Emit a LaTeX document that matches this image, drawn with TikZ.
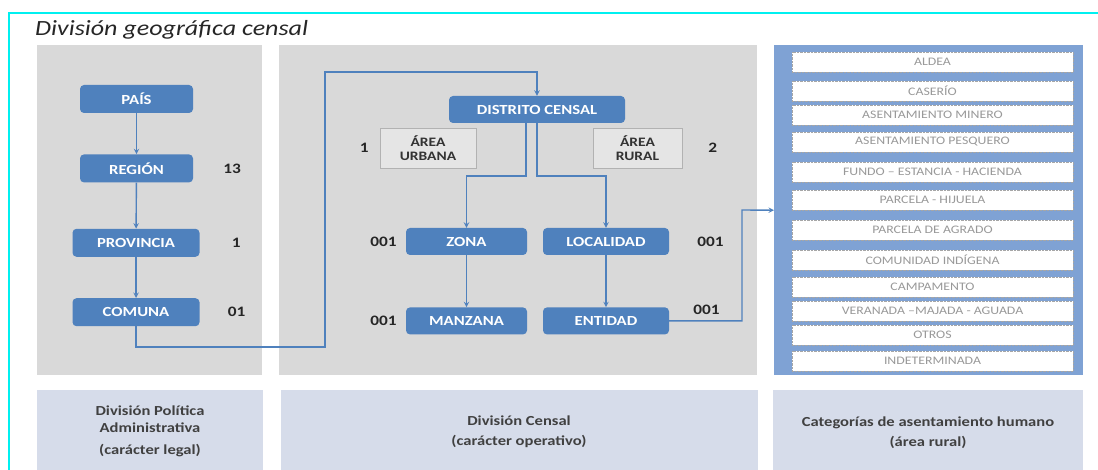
\documentclass[tikz,border=0pt]{standalone}
\usepackage{fontspec}
\setmainfont[FakeStretch=1.2]{Carlito}
\usepackage{tikz}
\usetikzlibrary{arrows,calc,
                shapes,positioning}

\definecolor{LevelBlue}{RGB}{79,129,189}
\definecolor{PanelGray}{RGB}{217,217,217}
\definecolor{ListBlue}{RGB}{127,162,212}
\definecolor{FootBlue}{RGB}{214,220,234}
\definecolor{FrameCyan}{RGB}{0,240,240}

\begin{document}
\begin{tikzpicture}[x=1pt,y=-1pt]
  \tikzset{PanelNode/.style = {shape = rectangle, inner sep = 0, anchor = north west, fill = PanelGray}};
  \tikzset{LevelNode/.style = {shape = rectangle, rounded corners = 4pt, fill = LevelBlue, text = white, inner sep = 0, minimum height = 28, font = \bfseries\fontsize{13.9}{16}\selectfont}};
  \tikzset{AreaNode/.style = {shape = rectangle, fill = black!10, draw = black!30, text = black!80, align = center, inner sep = 0, font = \bfseries\fontsize{12.9}{14}\selectfont}};
  \tikzset{CodeLabel/.style = {inner sep = 0, text = black!85, font = \bfseries\fontsize{14.4}{16}\selectfont}};
  \tikzset{ItemNode/.style = {shape = rectangle, fill = white, draw = black!35, densely dotted, text = black!40, minimum width = 281, minimum height = 20, inner sep = 0, font = \fontsize{11.5}{13}\selectfont}};
  \tikzset{FootNode/.style = {inner sep = 0, text = black!75, align = center, font = \bfseries\fontsize{13.8}{17}\selectfont}};
  \tikzset{EdgeStyle/.style = {>=stealth, LevelBlue, line width = 1.4pt, ->}};

  \useasboundingbox (0,0) rectangle (1098,470);
  \draw[FrameCyan, line width = 2pt] (1098,13) -- (9,13) -- (9,470);
  \node[anchor = west, inner sep = 0, font = \itshape\fontsize{21.7}{24}\selectfont, text = black!85] (title) at (35,30) {División geográfica censal};

  % panels
  \node[PanelNode, minimum width = 225, minimum height = 330] (panel dpa) at (37,45) {};
  \node[PanelNode, minimum width = 478, minimum height = 330] (panel censal) at (279,45) {};
  \node[PanelNode, minimum width = 309, minimum height = 330, fill = ListBlue] (categorias) at (774,45) {};
  \node[PanelNode, minimum width = 226, minimum height = 80, fill = FootBlue] (foot dpa) at (37,390) {};
  \node[PanelNode, minimum width = 477, minimum height = 80, fill = FootBlue] (foot censal) at (281,390) {};
  \node[PanelNode, minimum width = 310, minimum height = 80, fill = FootBlue] (foot categorias) at (773,390) {};

  % division politica administrativa
  \node[LevelNode, minimum width = 113] (pais) at (136.5,99) {PAÍS};
  \node[LevelNode, minimum width = 113, below = 41pt of pais] (region) {REGIÓN};
  \node[LevelNode, minimum width = 127, below = 46pt of region, xshift = -0.5pt] (provincia) {PROVINCIA};
  \node[LevelNode, minimum width = 127, below = 41pt of provincia] (comuna) {COMUNA};
  \node[CodeLabel, right = 30pt of region] (cod region) {13};
  \node[CodeLabel, right = 32pt of provincia] (cod provincia) {1};
  \node[CodeLabel, right = 28pt of comuna] (cod comuna) {01};

  % division censal
  \node[LevelNode, minimum width = 176, minimum height = 27] (distrito) at (537,109.5) {DISTRITO CENSAL};
  \node[AreaNode, minimum width = 96, minimum height = 40] (urbana) at (428,148) {ÁREA\\URBANA};
  \node[AreaNode, minimum width = 89, minimum height = 40] (rural) at (637.5,148) {ÁREA\\RURAL};
  \node[CodeLabel, left = 11pt of urbana] (cod urbana) {1};
  \node[CodeLabel, right = 26pt of rural] (cod rural) {2};
  \node[LevelNode, minimum width = 121, minimum height = 27] (zona) at (466.5,241.5) {ZONA};
  \node[LevelNode, minimum width = 126, minimum height = 27] (localidad) at (606,241.5) {LOCALIDAD};
  \node[LevelNode, minimum width = 121, minimum height = 27, below = 52pt of zona] (manzana) {MANZANA};
  \node[LevelNode, minimum width = 126, minimum height = 27, below = 52pt of localidad] (entidad) {ENTIDAD};
  \node[CodeLabel, left = 9pt of zona] (cod zona) {001};
  \node[CodeLabel, right = 28pt of localidad] (cod localidad) {001};
  \node[CodeLabel, left = 9pt of manzana] (cod manzana) {001};
  \node[CodeLabel, right = 24pt of entidad, yshift = 11pt] (cod entidad) {001};

  % categorias de asentamiento humano
  \foreach \y/\item [count = \i] in {62/ALDEA, 91/CASERÍO, 115/ASENTAMIENTO MINERO, 142/ASENTAMIENTO PESQUERO, 172/FUNDO – ESTANCIA - HACIENDA, 200/PARCELA - HIJUELA, 230/PARCELA DE AGRADO, 260/COMUNIDAD INDÍGENA, 287/CAMPAMENTO, 311/VERANADA –MAJADA - AGUADA, 335/OTROS, 361/INDETERMINADA}
    \node[ItemNode] (item\i) at (932.5,\y) {\item};

  % footers
  \node[FootNode] (txt dpa) at (150,431) {División Política\\Administrativa\\[5pt](carácter legal)};
  \node[FootNode] (txt censal) at (519,431.5) {División Censal\\[3pt](carácter operativo)};
  \node[FootNode] (txt categorias) at (928,432.5) {Categorías de asentamiento humano\\[3pt](área rural)};

  % connectors
  \coordinate (loop low) at (325,347);
  \coordinate (loop high) at (325,72);
  \coordinate (riser) at (742,210);
  \draw[EdgeStyle] (pais) to (region);
  \draw[EdgeStyle] (region) to (provincia);
  \draw[EdgeStyle] (provincia) to (comuna);
  \draw[EdgeStyle] (comuna.south) |- (loop low) -- (loop high) -| (distrito.north);
  \draw[EdgeStyle] ([xshift = -11pt]distrito.south) -- ++(0,53) -| (zona.north);
  \draw[EdgeStyle] (distrito.south) -- ++(0,53) -| (localidad.north);
  \draw[EdgeStyle] (zona) to (manzana);
  \draw[EdgeStyle] (localidad) to (entidad);
  \draw[EdgeStyle] (entidad.east) -| (riser) -- (categorias.west);
\end{tikzpicture}
\end{document}
